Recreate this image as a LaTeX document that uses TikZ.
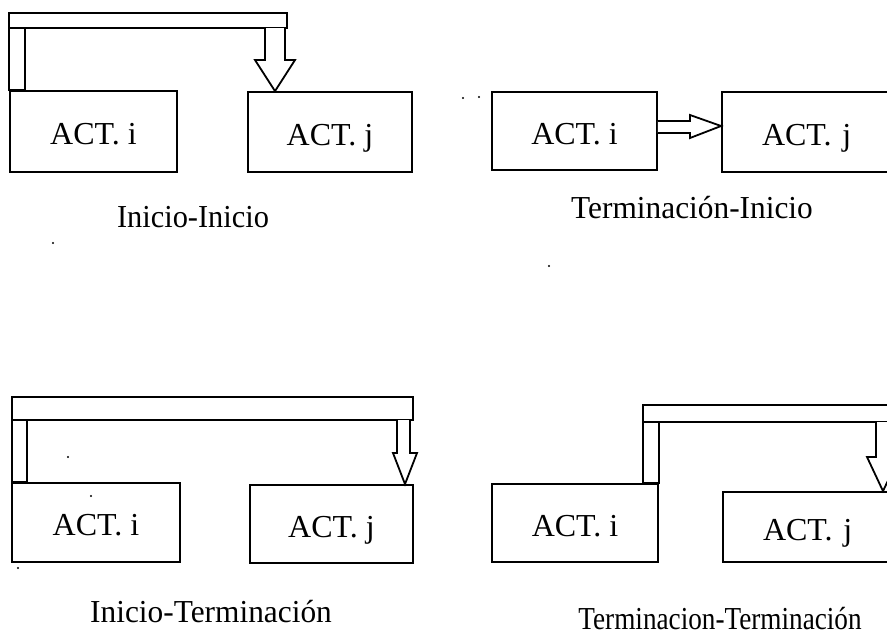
\documentclass[tikz,border=0pt]{standalone}
\usepackage{fontspec}
\usepackage{graphicx}
\setmainfont{Liberation Serif}
\begin{document}
\begin{tikzpicture}[x=0.5pt,y=-0.5pt,
  every node/.style={font=\fontsize{16}{19}\selectfont},
  actbox/.style={draw, line width=0.9pt, rectangle, inner sep=0pt, fill=white, text height=13pt, text depth=0pt},
  chan/.style={draw, line width=0.9pt, fill=white, line join=miter},
  caption/.style={anchor=base, inner sep=0pt},
  speck/.style={fill=black, circle, inner sep=0pt, minimum size=1.2pt}]
\useasboundingbox (0,0) rectangle (887,633);
\clip (0,0) rectangle (887,633);

% ---------- Panel 1: Inicio-Inicio ----------
\node[actbox, minimum width=83.5pt, minimum height=40.5pt] (a1) at (93.5,131.5) {ACT. i};
\node[actbox, minimum width=82pt, minimum height=40pt] (b1) at (330,132) {ACT. j};
\draw[chan] (9,13) rectangle (287,28);
\draw[chan] (9,28) rectangle (25,0 |- a1.north);
\draw[chan] (265,28) -- (265,60) -- (255,60) -- (275,0 |- b1.north) -- (295,60) -- (285,60) -- (285,28);
\node[caption] (c1) at (193,227) {\scalebox{0.95}[1]{Inicio-Inicio}};

% ---------- Panel 2: Terminacion-Inicio ----------
\node[actbox, minimum width=82.5pt, minimum height=39pt] (a2) at (574.5,131) {ACT. i};
\node[actbox, minimum width=90pt, minimum height=40pt, text width=50pt, align=left] (b2) at (812,132) {ACT. j};
\draw[chan] (a2.east |- 0,121) -- (690,121) -- (690,115) -- (b2.west |- 0,126) -- (690,138) -- (690,133) -- (a2.east |- 0,133);
\node[caption] (c2) at (692,218) {\scalebox{0.98}[1]{Terminación-Inicio}};

% ---------- Panel 3: Inicio-Terminacion ----------
\node[actbox, minimum width=84pt, minimum height=39.5pt] (a3) at (96,522.5) {ACT. i};
\node[actbox, minimum width=81.5pt, minimum height=39pt] (b3) at (331.5,524) {ACT. j};
\draw[chan] (12,397) rectangle (413,420);
\draw[chan] (12,420) rectangle (27,0 |- a3.north);
\draw[chan] (397,420) -- (397,453) -- (393,453) -- (405,0 |- b3.north) -- (417,453) -- (410,453) -- (410,420);
\node[caption] (c3) at (211,622) {\scalebox{0.98}[1]{Inicio-Terminación}};

% ---------- Panel 4: Terminacion-Terminacion ----------
\node[actbox, minimum width=83pt, minimum height=39pt] (a4) at (575,523) {ACT. i};
\node[actbox, minimum width=90pt, minimum height=35pt, text width=50pt, align=left] (b4) at (813,527) {ACT. j};
\draw[chan] (643,405) rectangle (920,422);
\draw[chan] (643,422) rectangle (a4.north east);
\draw[chan] (876,422) -- (876,457) -- (867,457) -- (883,0 |- b4.north) -- (899,457) -- (890,457) -- (890,422);
\node[caption] (c4) at (720,629) {\scalebox{0.85}[1]{Terminacion-Terminación}};

% ---------- scan specks ----------
\node[speck] (s1) at (463,98) {};
\node[speck] (s2) at (479,97) {};
\node[speck] (s3) at (53,243) {};
\node[speck] (s4) at (549,266) {};
\node[speck] (s5) at (68,457) {};
\node[speck] (s6) at (91,496) {};
\node[speck] (s7) at (18,568) {};
\end{tikzpicture}
\end{document}
